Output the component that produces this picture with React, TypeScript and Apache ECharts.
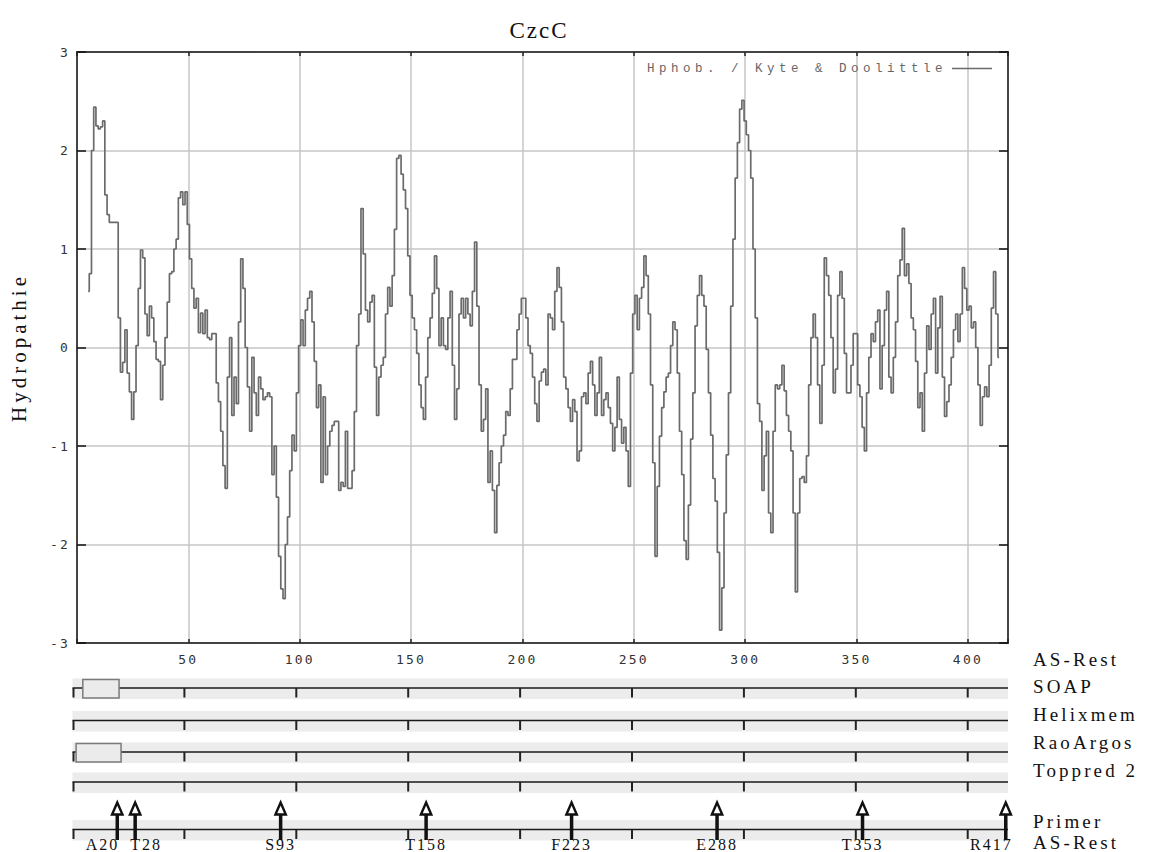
import React, { useEffect, useRef } from "react";
import * as echarts from "echarts";

// ---------- data ----------
const chartTitle = "CzcC";
const yAxisTitle = "Hydropathie";
const seriesName = "Hphob. / Kyte & Doolittle";

// Kyte & Doolittle hydropathy, one value per residue, starting at residue 5
const firstResidue = 5;
const hydropathy: number[] = [
  0.57, 0.75, 2.0, 2.44, 2.25, 2.22, 2.24, 2.3, 1.55, 1.35,
  1.27, 1.27, 1.27, 1.27, 0.3, -0.25, -0.15, 0.18, -0.26, -0.45,
  -0.73, -0.45, 0.02, 0.6, 0.99, 0.91, 0.34, 0.12, 0.42, 0.3,
  0.06, -0.12, -0.14, -0.53, -0.18, 0.1, 0.46, 0.75, 0.77, 1.0,
  1.1, 1.52, 1.58, 1.45, 1.58, 1.25, 0.9, 0.6, 0.4, 0.5,
  0.15, 0.35, 0.14, 0.38, 0.1, 0.08, 0.14, 0.14, -0.36, -0.55,
  -0.85, -1.2, -1.43, -0.3, 0.1, -0.69, -0.3, -0.57, 0.26, 0.9,
  0.6, 0.0, -0.4, -0.85, -0.1, -0.46, -0.69, -0.3, -0.42, -0.53,
  -0.5, -0.46, -0.5, -1.29, -1.0, -1.52, -2.12, -2.45, -2.55, -2.0,
  -1.72, -1.25, -0.89, -1.05, -0.46, 0.02, 0.28, 0.02, 0.38, 0.5,
  0.57, 0.26, -0.14, -0.61, -0.38, -1.37, -0.5, -1.29, -1.0, -0.85,
  -0.79, -0.75, -0.75, -1.45, -1.37, -1.41, -0.85, -1.43, -1.43, -1.25,
  -0.65, 0.02, 0.34, 1.41, 0.95, 0.38, 0.26, 0.46, 0.53, -0.2,
  -0.69, -0.3, -0.18, -0.1, 0.34, 0.61, 0.42, 0.73, 1.2, 1.92,
  1.95, 1.76, 1.6, 1.41, 0.93, 0.53, 0.3, 0.18, -0.06, -0.38,
  -0.61, -0.73, -0.3, 0.1, 0.3, 0.55, 0.93, 0.6, 0.02, 0.3,
  0.02, -0.02, 0.3, 0.57, -0.18, -0.73, -0.42, 0.34, 0.5, 0.3,
  0.5, 0.34, 0.22, 0.57, 1.07, 0.42, -0.38, -0.85, -0.73, -0.42,
  -1.37, -1.05, -1.45, -1.88, -1.4, -1.17, -1.0, -0.89, -0.65, -0.69,
  -0.42, -0.12, -0.12, 0.18, 0.34, 0.5, 0.5, 0.3, 0.02, -0.06,
  -0.3, -0.57, -0.75, -0.34, -0.25, -0.22, -0.38, 0.34, 0.3, 0.18,
  0.57, 0.81, 0.61, 0.26, -0.3, -0.42, -0.61, -0.75, -0.53, -0.65,
  -1.15, -1.05, -0.5, -0.46, -0.57, -0.26, -0.14, -0.38, -0.69, -0.46,
  -0.1, -0.69, -0.53, -0.46, -0.61, -0.77, -1.05, -0.81, -0.3, -0.73,
  -0.97, -0.81, -1.05, -1.41, -0.26, 0.34, 0.53, 0.18, 0.5, 0.61,
  0.93, 0.73, 0.34, -0.38, -1.17, -2.12, -1.41, -0.9, -0.61, -0.45,
  -0.3, -0.26, 0.02, 0.26, 0.18, -0.26, -0.85, -1.29, -1.96, -2.15,
  -1.6, -0.93, -0.46, 0.22, 0.53, 0.73, 0.53, 0.42, -0.02, -0.46,
  -0.89, -1.33, -1.56, -2.08, -2.87, -2.44, -1.68, -1.09, -0.46, 0.42,
  1.1, 1.72, 2.08, 2.42, 2.51, 2.3, 2.16, 2.0, 1.72, 1.0,
  0.3, -0.57, -0.75, -1.45, -1.1, -0.85, -1.68, -1.88, -0.85, -0.38,
  -0.42, -0.38, -0.18, -0.44, -0.69, -0.85, -1.05, -1.68, -2.48, -1.68,
  -1.33, -1.31, -1.37, -1.1, -0.38, 0.1, 0.34, 0.1, -0.38, -0.77,
  -0.18, 0.91, 0.73, 0.53, 0.1, -0.46, -0.22, 0.53, 0.77, 0.5,
  -0.06, -0.46, -0.46, -0.18, 0.14, 0.14, -0.38, -0.5, -0.81, -1.05,
  -0.46, -0.1, 0.14, 0.06, 0.26, 0.38, -0.42, 0.02, 0.38, 0.57,
  -0.3, -0.46, -0.1, 0.26, 0.73, 0.89, 1.21, 0.73, 0.85, 0.65,
  0.3, 0.18, -0.14, -0.61, -0.46, -0.85, -0.26, 0.22, -0.02, 0.34,
  0.5, -0.26, 0.2, 0.52, -0.3, -0.7, -0.55, -0.38, -0.1, 0.18,
  0.34, 0.06, 0.34, 0.81, 0.6, 0.38, 0.42, 0.2, 0.26, 0.0,
  -0.38, -0.79, -0.5, -0.4, -0.5, -0.18, 0.4, 0.77, 0.34, -0.1,
];

const residueAxisMax = 418;
const residueTickStep = 50;
const hydropathyRange = [-3, 3];
const hydropathyTickStep = 1;

const rightLabels = ["AS-Rest", "SOAP", "Helixmem", "RaoArgos", "Toppred 2", "Primer", "AS-Rest"];
const trackRows = ["SOAP", "Helixmem", "RaoArgos", "Toppred 2", "Primer"];
const predictedSegments = [
  { track: "SOAP", from: 4.6, to: 20.8 },
  { track: "RaoArgos", from: 1.6, to: 21.7 },
];
const primerSites = [20, 28, 93, 158, 223, 288, 353, 417];
const primerNames = ["A20", "T28", "S93", "T158", "F223", "E288", "T353", "R417"];

// ---------- layout (not data) ----------
const PLOT = { left: 72.5, top: 52, width: 935.5, height: 591 };
const TRACK = { top: 676, height: 166 };
const ROW_LINE = [12, 44.5, 76, 106, 153.5];
const BAND_ABOVE = 9.5;
const BAND_BELOW = 11;
const TICK_LEN = 9.5;
const LABEL_X = 1033;
const LABEL_Y = [659, 686, 714, 742, 770, 821, 842];
const PRIMER_LABEL_Y = 844;
const PRIMER_LABEL_LAYOUT = [
  { align: "right", dx: 2 },
  { align: "left", dx: -5 },
  { align: "center", dx: 0 },
  { align: "center", dx: 0 },
  { align: "center", dx: 0 },
  { align: "center", dx: 0 },
  { align: "center", dx: 0 },
  { align: "right", dx: 7 },
];

const F_SERIF = "'Liberation Serif', serif";
const F_LABEL = "'Liberation Serif', Georgia";
const F_SERIF_WIDE = "'Liberation Serif', 'Times New Roman'";
const F_TICK = "'DejaVu Sans Mono', monospace";
const F_LEGEND = "'Liberation Mono', monospace";

const css = `
.czc text[style*="serif"] { letter-spacing: 2px; }
.czc text[style*="Georgia"] { letter-spacing: 3.1px; }
.czc text[style*="Times New Roman"] { letter-spacing: 4px; }
.czc text[style*="DejaVu Sans Mono"] { letter-spacing: 2.2px; }
.czc text[style*="Liberation Mono"] { letter-spacing: 4.5px; }
`;

export default function App() {
  const ref = useRef<HTMLDivElement>(null);
  useEffect(() => {
    if (!ref.current) return;
    const chart = echarts.init(ref.current, undefined, { renderer: "svg" });

    const lineData = hydropathy.map((v, i) => [firstResidue + i, v]);
    const residueTicks: number[] = [];
    for (let t = 0; t <= residueAxisMax; t += residueTickStep) residueTicks.push(t);

    const trackRender = (params: any, api: any) => {
      const row = api.value(0);
      const off = ROW_LINE[row];
      const [x0, yl] = api.coord([0, off]);
      const [x1] = api.coord([residueAxisMax, off]);
      const yTop = api.coord([0, off - BAND_ABOVE])[1];
      const yBot = api.coord([0, off + BAND_BELOW])[1];
      const children: any[] = [
        { type: "rect", shape: { x: x0, y: yTop, width: x1 - x0, height: yBot - yTop }, style: { fill: "#ececec" } },
        { type: "line", shape: { x1: x0, y1: yl, x2: x1, y2: yl }, style: { stroke: "#1a1a1a", lineWidth: 1.6 } },
      ];
      residueTicks.forEach((t) => {
        const x = api.coord([t, off])[0] + (t === 0 ? 1 : 0);
        children.push({ type: "line", shape: { x1: x, y1: yl, x2: x, y2: yl + TICK_LEN }, style: { stroke: "#222", lineWidth: 2 } });
      });
      return { type: "group", children };
    };

    const boxRender = (params: any, api: any) => {
      const from = api.value(0);
      const to = api.value(1);
      const row = api.value(2);
      const off = ROW_LINE[row];
      const [xa, yTop] = api.coord([from, off - BAND_ABOVE + 1]);
      const [xb, yBot] = api.coord([to, off + BAND_BELOW - 1]);
      return {
        type: "rect",
        shape: { x: xa, y: yTop, width: xb - xa, height: yBot - yTop },
        style: { fill: "#ebebeb", stroke: "#7a7a7a", lineWidth: 1.5 },
      };
    };

    const arrowRender = (params: any, api: any) => {
      const site = api.value(0);
      const idx = api.value(1);
      const x = api.coord([site, 0])[0];
      const apex = api.coord([site, 126.5])[1];
      const base = api.coord([site, 138.5])[1];
      const end = api.coord([site, 164])[1];
      const lay = PRIMER_LABEL_LAYOUT[idx];
      return {
        type: "group",
        children: [
          { type: "line", shape: { x1: x, y1: base, x2: x, y2: end }, style: { stroke: "#111", lineWidth: 3.5 } },
          {
            type: "polygon",
            shape: { points: [[x, apex], [x - 5.2, base], [x + 5.2, base]] },
            style: { fill: "#fff", stroke: "#111", lineWidth: 2.4, lineJoin: "miter" },
          },
          {
            type: "text",
            style: {
              x: x + lay.dx,
              y: PRIMER_LABEL_Y,
              text: primerNames[idx],
              align: lay.align,
              verticalAlign: "middle",
              fontFamily: F_SERIF,
              fontSize: 16,
              fill: "#111",
            },
          },
        ],
      };
    };

    const axisLineStyle = { show: true, onZero: false, lineStyle: { color: "#222", width: 1.5 } };

    const option: any = {
      animation: false,
      backgroundColor: "#ffffff",
      title: {
        text: chartTitle,
        left: 534,
        top: 14,
        textAlign: "center",
        textStyle: { fontFamily: F_SERIF, fontSize: 23, fontWeight: "normal", color: "#111" },
      },
      legend: {
        data: [seriesName],
        right: 152,
        top: 57,
        align: "right",
        icon: "rect",
        itemWidth: 40,
        itemHeight: 1.5,
        itemStyle: { color: "#6b6b6b" },
        textStyle: { fontFamily: F_LEGEND, fontSize: 12.5, color: "#666666" },
      },
      grid: [
        {
          left: PLOT.left,
          top: PLOT.top,
          width: PLOT.width,
          height: PLOT.height,
          show: true,
          borderColor: "#222",
          borderWidth: 1.5,
          backgroundColor: "#fff",
        },
        { left: PLOT.left, top: TRACK.top, width: PLOT.width, height: TRACK.height },
      ],
      xAxis: [
        {
          type: "value",
          gridIndex: 0,
          min: 0,
          max: residueAxisMax,
          interval: residueTickStep,
          position: "bottom",
          axisLine: axisLineStyle,
          axisTick: { show: true, inside: true, length: 4, lineStyle: { color: "#222", width: 1.5 } },
          axisLabel: {
            margin: 10,
            fontFamily: F_TICK,
            fontSize: 13,
            color: "#333",
            formatter: (v: number) => (v > 0 && v % residueTickStep === 0 ? String(v) : ""),
          },
          splitLine: { show: true, lineStyle: { color: "#c6c6c6", width: 1.5 } },
        },
        {
          type: "value",
          gridIndex: 0,
          min: 0,
          max: residueAxisMax,
          interval: residueTickStep,
          position: "top",
          axisLine: axisLineStyle,
          axisTick: { show: true, inside: true, length: 4, lineStyle: { color: "#222", width: 1.5 } },
          axisLabel: { show: false },
          splitLine: { show: false },
        },
        { type: "value", gridIndex: 1, min: 0, max: residueAxisMax, show: false },
      ],
      yAxis: [
        {
          type: "value",
          gridIndex: 0,
          min: hydropathyRange[0],
          max: hydropathyRange[1],
          interval: hydropathyTickStep,
          position: "left",
          name: yAxisTitle,
          nameLocation: "middle",
          nameGap: 48,
          nameTextStyle: { fontFamily: F_SERIF_WIDE, fontSize: 21, color: "#111" },
          axisLine: axisLineStyle,
          axisTick: { show: true, inside: true, length: 9, lineStyle: { color: "#111", width: 1.5 } },
          axisLabel: { margin: 7, fontFamily: F_TICK, fontSize: 13, color: "#333" },
          splitLine: { show: true, lineStyle: { color: "#c6c6c6", width: 1.5 } },
        },
        {
          type: "value",
          gridIndex: 0,
          min: hydropathyRange[0],
          max: hydropathyRange[1],
          interval: hydropathyTickStep,
          position: "right",
          axisLine: axisLineStyle,
          axisTick: { show: true, inside: true, length: 9, lineStyle: { color: "#111", width: 1.5 } },
          axisLabel: { show: false },
          splitLine: { show: false },
        },
        { type: "value", gridIndex: 1, min: 0, max: TRACK.height, inverse: true, show: false },
      ],
      series: [
        {
          name: seriesName,
          type: "line",
          xAxisIndex: 0,
          yAxisIndex: 0,
          step: "middle",
          symbol: "none",
          data: lineData,
          lineStyle: { color: "#6b6b6b", width: 1.7 },
          itemStyle: { color: "#6b6b6b" },
        },
        {
          type: "custom",
          xAxisIndex: 2,
          yAxisIndex: 2,
          renderItem: trackRender,
          data: trackRows.map((_, i) => [i, 0]),
          clip: false,
          silent: true,
          z: 1,
        },
        {
          type: "custom",
          xAxisIndex: 2,
          yAxisIndex: 2,
          renderItem: boxRender,
          data: predictedSegments.map((s) => [s.from, s.to, trackRows.indexOf(s.track)]),
          clip: false,
          silent: true,
          z: 2,
        },
        {
          type: "custom",
          xAxisIndex: 2,
          yAxisIndex: 2,
          renderItem: arrowRender,
          data: primerSites.map((p, i) => [p, i]),
          clip: false,
          silent: true,
          z: 3,
        },
      ],
      graphic: rightLabels.map((t, i) => ({
        type: "text",
        x: LABEL_X,
        y: LABEL_Y[i],
        style: { text: t, fontFamily: F_LABEL, fontSize: 19, fill: "#111", verticalAlign: "middle" },
      })),
    };

    chart.setOption(option);
    return () => chart.dispose();
  }, []);

  return (
    <div
      className="czc"
      style={{ position: "absolute", left: 0, top: 0, width: 1149, height: 852, overflow: "hidden" }}
    >
      <style>{css}</style>
      <div ref={ref} style={{ width: 1149, height: 852 }} />
    </div>
  );
}
